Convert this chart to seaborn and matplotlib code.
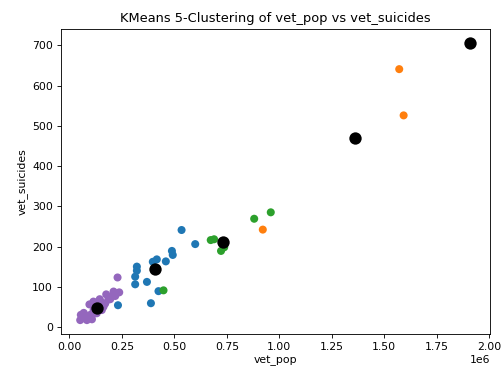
import pandas as pd
import numpy as np
import seaborn as sns
import matplotlib
matplotlib.use("Agg")
import matplotlib.pyplot as plt

# 군집별 데이터 - 보라색 군집을 먼저 그림
vet_pop = [0.229, 0.237, 0.218, 0.175, 0.144, 0.114, 0.095, 0.194, 0.162, 0.130,
           0.099, 0.075, 0.054, 0.051, 0.083, 0.107, 0.154, 0.115,
           0.062, 0.068, 0.090, 0.120, 0.140, 0.126, 0.200, 0.210, 0.185, 0.170,
           0.105, 0.150,
           0.534, 0.599, 0.488, 0.492, 0.459, 0.416, 0.397, 0.321, 0.321, 0.313,
           0.313, 0.369, 0.424, 0.388, 0.231,
           1.571, 1.592, 0.921,
           0.448, 0.880, 0.959, 0.673, 0.689, 0.722, 0.737,
           1.910]
vet_suicides = [123, 86, 77, 81, 69, 63, 56, 69, 50, 34,
                30, 22, 30, 17, 17, 19, 42, 42,
                22, 35, 25, 38, 55, 60, 75, 88, 68, 58,
                26, 62,
                241, 206, 189, 179, 163, 168, 162, 150, 140, 125,
                106, 112, 89, 59, 54,
                641, 526, 242,
                91, 269, 285, 216, 218, 189, 198,
                707]
cluster = [4] * 30 + [0] * 15 + [1] * 3 + [2] * 7 + [3] * 1

# 중심점
center_pop = [0.407, 1.360, 0.733, 1.910, 0.132]
center_suicides = [144, 471, 210, 707, 48]

df = pd.DataFrame({"vet_pop": np.array(vet_pop) * 1e6,
                   "vet_suicides": vet_suicides,
                   "cluster": cluster})
centers = pd.DataFrame({"vet_pop": np.array(center_pop) * 1e6,
                        "vet_suicides": center_suicides})

fig, ax = plt.subplots(figsize=(504 / 78, 372 / 78), dpi=78)
fig.subplots_adjust(left=0.1204, right=0.972, bottom=0.1022, top=0.9228)

sns.scatterplot(data=df, x="vet_pop", y="vet_suicides", hue="cluster",
                palette="tab10", hue_order=[0, 1, 2, 3, 4, 5, 6, 7, 8, 9],
                s=55, linewidth=0, legend=False, ax=ax)
sns.scatterplot(data=centers, x="vet_pop", y="vet_suicides", color="black",
                s=130, linewidth=0, legend=False, ax=ax)

ax.set_title("KMeans 5-Clustering of vet_pop vs vet_suicides")
ax.set_yticks([0, 100, 200, 300, 400, 500, 600, 700])

fig.savefig("out.png", dpi=78)
